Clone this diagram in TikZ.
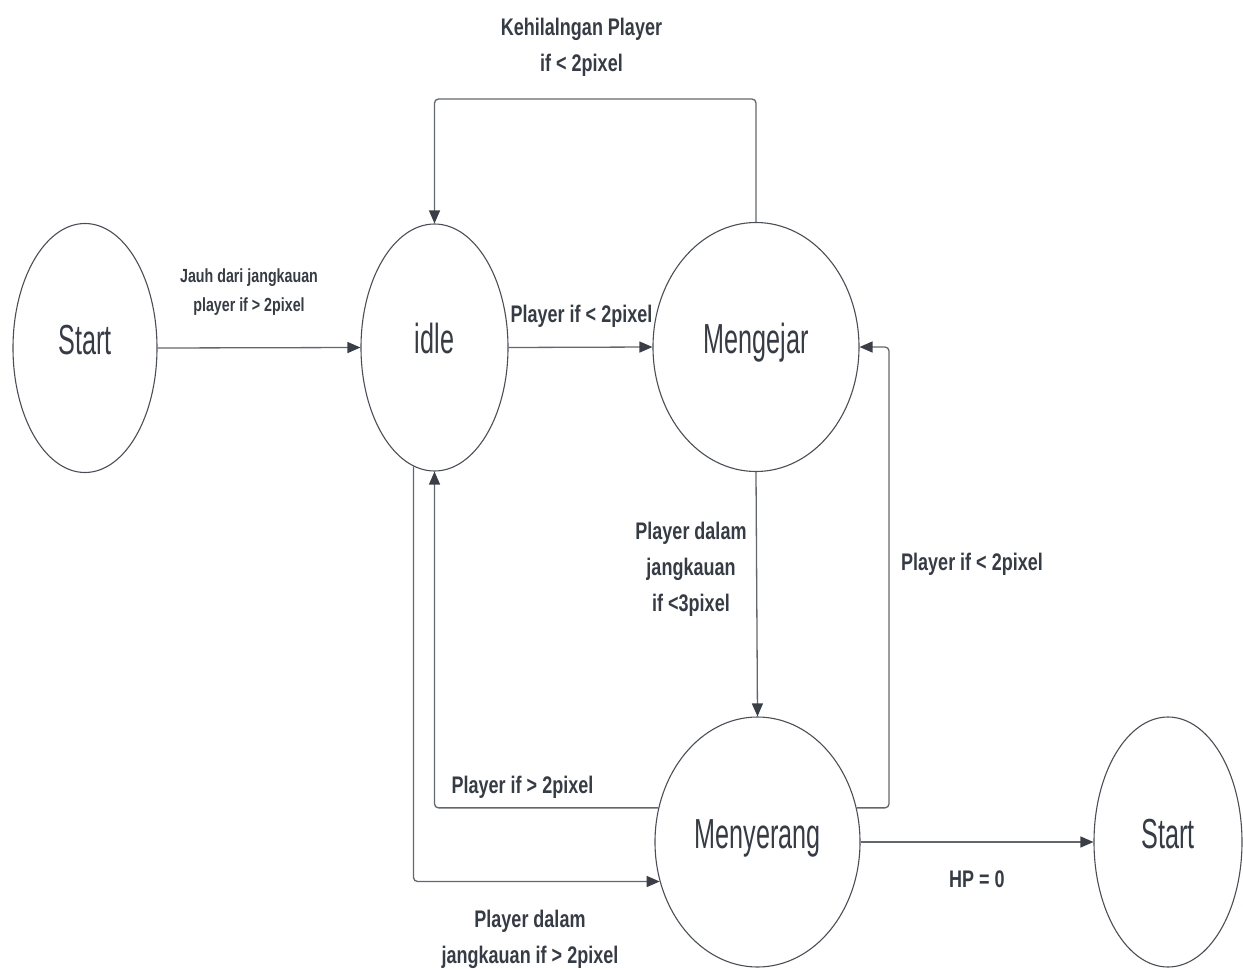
\documentclass[tikz,border=0pt]{standalone}
\usepackage{fontspec}
\usetikzlibrary{arrows.meta,shapes.geometric}
\newfontfamily\statefont{Liberation Sans}[FakeStretch=0.6]
\newfontfamily\lblfont{Liberation Sans}[FakeStretch=0.75]
\definecolor{txt}{HTML}{363C45}
\definecolor{edgec}{HTML}{4A4F57}
\definecolor{linec}{HTML}{62676E}
\definecolor{arrowc}{HTML}{3A3F47}
\begin{document}
\begin{tikzpicture}[x=1pt,y=-1pt,
  state/.style={ellipse, draw=edgec, line width=1.1pt, fill=white, text=txt,
    font=\statefont\fontsize{42}{48}\selectfont, text height=30pt, text depth=18pt, inner sep=0pt},
  lbl/.style={text=txt, font=\lblfont\bfseries\fontsize{24}{36}\selectfont, align=center, inner sep=0pt},
  conn/.style={draw=linec, line width=1.3pt, rounded corners=4pt,
    -{Triangle[length=13pt,width=11pt,color=arrowc]}}]
\useasboundingbox (0,0) rectangle (1243,969);
% states
\node[state, minimum width=144pt, minimum height=249pt] (s1) at (85,348) {Start};
\node[state, minimum width=147pt, minimum height=247pt] (idle) at (434.5,347.5) {idle};
\node[state, minimum width=206pt, minimum height=249pt] (mg) at (756,347) {Mengejar};
\node[state, minimum width=205pt, minimum height=250pt] (ms) at (757.5,842) {Menyerang};
\node[state, minimum width=148pt, minimum height=250pt] (s2) at (1168,842) {Start};
% helper coordinates
\coordinate (topy) at (0,99);
\coordinate (rx) at (889,600);
% connectors
\draw[conn] (s1.east) -- (idle.west);
\draw[conn] (idle.east) -- (mg.west);
\draw[conn] (mg.north) -- (mg.north |- topy) -- (idle.north |- topy) -- (idle.north);
\draw[conn] (mg.south) -- (ms.north);
\draw[conn] (ms.19) -| (rx) |- (mg.east);
\draw[conn] (ms.161) -| (idle.south);
\draw[conn] (idle.260) |- (ms.202);
\draw[conn] (ms.east) -- (s2.west);
% labels
\node[lbl, font=\lblfont\bfseries\fontsize{19}{29}\selectfont] (l1) at (249,292) {Jauh dari jangkauan\\player if > 2pixel};
\node[lbl] (l2) at (581.5,47) {Kehilalngan Player\\if < 2pixel};
\node[lbl] (l3) at (581.5,316) {Player if < 2pixel};
\node[lbl] (l4) at (691,569) {Player dalam\\jangkauan\\if <3pixel};
\node[lbl] (l5) at (972,564) {Player if < 2pixel};
\node[lbl] (l6) at (522.5,787) {Player if > 2pixel};
\node[lbl] (l7) at (530,939) {Player dalam\\jangkauan if > 2pixel};
\node[lbl] (l8) at (977,879) {HP = 0};
\end{tikzpicture}
\end{document}
